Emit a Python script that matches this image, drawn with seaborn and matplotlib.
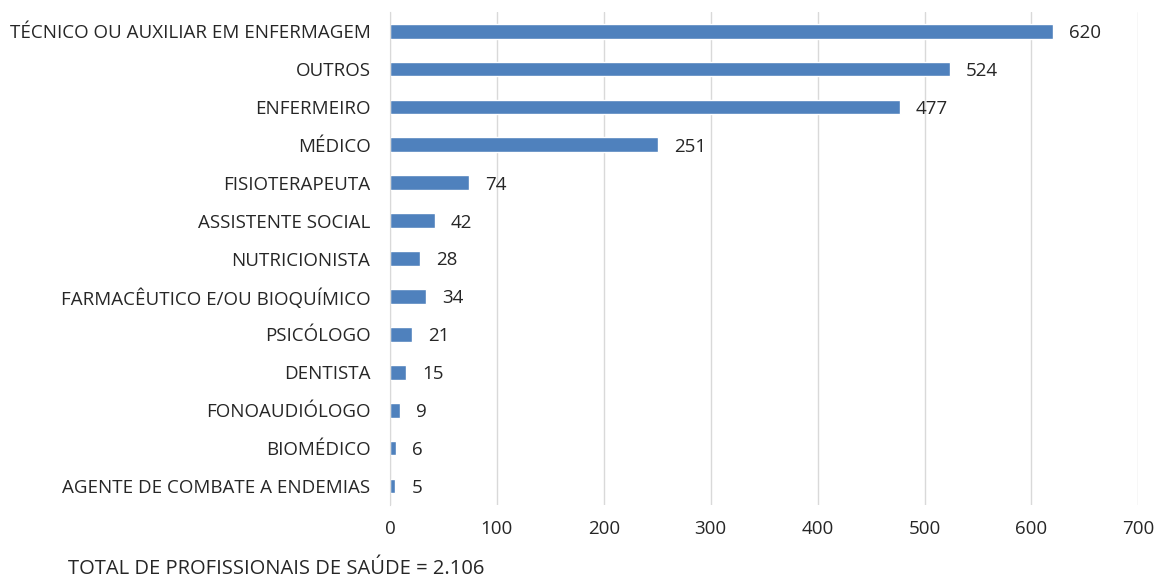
import matplotlib
matplotlib.use("Agg")
import matplotlib.pyplot as plt
import seaborn as sn
import pandas as pd

categories = [
    "TÉCNICO OU AUXILIAR EM ENFERMAGEM",
    "OUTROS",
    "ENFERMEIRO",
    "MÉDICO",
    "FISIOTERAPEUTA",
    "ASSISTENTE SOCIAL",
    "NUTRICIONISTA",
    "FARMACÊUTICO E/OU BIOQUÍMICO",
    "PSICÓLOGO",
    "DENTISTA",
    "FONOAUDIÓLOGO",
    "BIOMÉDICO",
    "AGENTE DE COMBATE A ENDEMIAS",
]
values = [620, 524, 477, 251, 74, 42, 28, 34, 21, 15, 9, 6, 5]
x_ticks = [0, 100, 200, 300, 400, 500, 600, 700]
footer = "TOTAL DE PROFISSIONAIS DE SAÚDE = 2.106"

sn.set_style("white")
plt.rcParams["font.family"] = ["Open Sans", "DejaVu Sans"]

df = pd.DataFrame({"categoria": categories, "valor": values})

fig = plt.figure(figsize=(11.64, 5.79), dpi=100)
ax = fig.add_axes([0.335, 0.128, 0.643, 0.851])

sn.barplot(data=df, x="valor", y="categoria", color="#4F81BD",
           saturation=1, width=0.39, ax=ax, orient="h")

# value labels to the right of each bar
for i, v in enumerate(values):
    ax.text(v + 15, i + 0.05, str(v), va="center", ha="left", fontsize=13.5,
            color="#262626")

ax.set_xlim(0, 700)
ax.set_ylim(12.5, -0.5)
ax.set_xticks(x_ticks)
ax.xaxis.grid(True, color="#d9d9d9", linewidth=1)
ax.set_axisbelow(True)
for s in ["top", "right", "bottom"]:
    ax.spines[s].set_visible(False)
ax.spines["left"].set_color("#d9d9d9")
ax.tick_params(axis="both", length=0, labelsize=13.5, colors="#262626")
ax.tick_params(axis="y", pad=14)
ax.tick_params(axis="x", pad=11)
ax.set_xlabel("")
ax.set_ylabel("")

fig.text(68 / 1164, 1 - 569 / 579, footer, fontsize=14.5, color="#262626",
         va="center", ha="left")

fig.savefig("out.png", dpi=100)
plt.close(fig)
